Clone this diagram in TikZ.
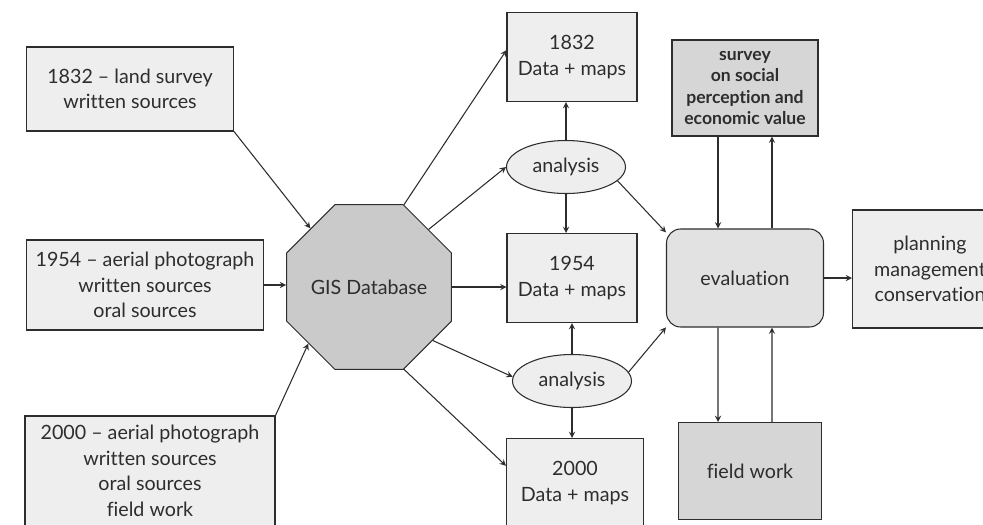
\documentclass[tikz,border=0pt]{standalone}
\usepackage{fontspec}
\setmainfont{Lato}[Ligatures={NoCommon,NoRare}]
\usepackage{xcolor}
\usetikzlibrary{shapes,arrows,positioning,calc}

\definecolor{inkgray}{RGB}{45,45,45}
\definecolor{boxfill}{RGB}{238,238,238}
\definecolor{gisfill}{RGB}{202,202,202}
\definecolor{evalfill}{RGB}{226,226,226}
\definecolor{darkfill}{RGB}{214,214,214}

\begin{document}
\begin{tikzpicture}[
    x=0.02cm, y=-0.02cm,
    every node/.style={font=\fontsize{11.2}{14.5}\selectfont, text=inkgray},
    box/.style={rectangle, draw=inkgray, semithick, fill=#1, align=center, inner sep=2pt},
    box/.default=boxfill,
    gisbox/.style={regular polygon, regular polygon sides=8, draw=inkgray, semithick, fill=gisfill, minimum size=3.42cm, inner sep=0pt},
    anbox/.style={ellipse, draw=inkgray, semithick, fill=boxfill, minimum width=2.38cm, minimum height=1.06cm, inner sep=0pt},
    evalbox/.style={rectangle, draw=inkgray, semithick, fill=evalfill, rounded corners=8pt, minimum width=3.14cm, minimum height=1.96cm},
    arr/.style={->, >=stealth, semithick, color=inkgray}
]
    \useasboundingbox[fill=white] (0,0) rectangle (983,524);

    % Sources
    \node[box, minimum width=4.14cm, minimum height=1.68cm] at (130,89) (src1832) {1832 -- land survey\\written sources};
    \node[box, minimum width=4.74cm, minimum height=1.8cm] at (145,285) (src1954) {1954 -- aerial photograph\\written sources\\oral sources};
    \node[box, minimum width=5cm, minimum height=2.2cm] at (150,471) (src2000) {2000 -- aerial photograph\\written sources\\oral sources\\field work};

    % GIS
    \node[gisbox] at (369,287) (gis) {GIS Database};

    % Data + maps and analysis
    \node[box, minimum width=2.6cm, minimum height=1.78cm] at (572,57) (d1832) {1832\\Data + maps};
    \node[anbox] at (566,167) (an1) {analysis};
    \node[box, minimum width=2.6cm, minimum height=1.78cm] at (572,278) (d1954) {1954\\Data + maps};
    \node[anbox] at (572,381) (an2) {analysis};
    \node[box, minimum width=2.74cm, minimum height=1.78cm] at (575,483) (d2000) {2000\\Data + maps};

    % Evaluation side
    \node[box=darkfill, minimum width=2.92cm, minimum height=1.92cm, font=\fontsize{10}{12.2}\selectfont\bfseries] at (745,88) (survey) {survey\\on social\\perception and\\economic value};
    \node[evalbox] at (745,278) (eval) {evaluation};
    \node[box=darkfill, minimum width=2.86cm, minimum height=1.94cm] at (750,471) (field) {field work};
    \node[box, minimum width=3.1cm, minimum height=2.36cm] at (930,269) (plan) {planning\\management\\conservation};

    % Connections
    \draw[arr] (src1832.south east) -- (gis.135);
    \draw[arr] (src1954.east) -- (src1954.east -| gis.west);
    \draw[arr] (src2000.north east) -- (gis.223);

    \draw[arr] (gis.67.5) -- (d1832.174);
    \draw[arr] (gis.44) -- (an1.west);
    \draw[arr] (gis.east) -- (gis.east -| d1954.west);
    \draw[arr] (gis.-40) -- (an2.176);
    \draw[arr] (gis.-67.5) -- (d2000.166);

    \draw[arr] (an1.north) -- (an1.north |- d1832.south);
    \draw[arr] (an1.south) -- (an1.south |- d1954.north);
    \draw[arr] (an2.north) -- (an2.north |- d1954.south);
    \draw[arr] (an2.south) -- (an2.south |- d2000.north);

    \draw[arr] (an1.-15) -- (eval.150);
    \draw[arr] (an2.9) -- (eval.212);

    \draw[arr] ([xshift=-0.54cm]survey.south) -- ([xshift=-0.54cm]eval.north);
    \draw[arr] ([xshift=0.54cm]eval.north) -- ([xshift=0.54cm]survey.south);
    \draw[arr] ([xshift=-0.54cm]eval.south) -- ([xshift=-0.64cm]field.north);
    \draw[arr] ([xshift=0.44cm]field.north) -- ([xshift=0.54cm]eval.south);

    \draw[arr] (eval.east) -- (eval.east -| plan.west);

\end{tikzpicture}
\end{document}
